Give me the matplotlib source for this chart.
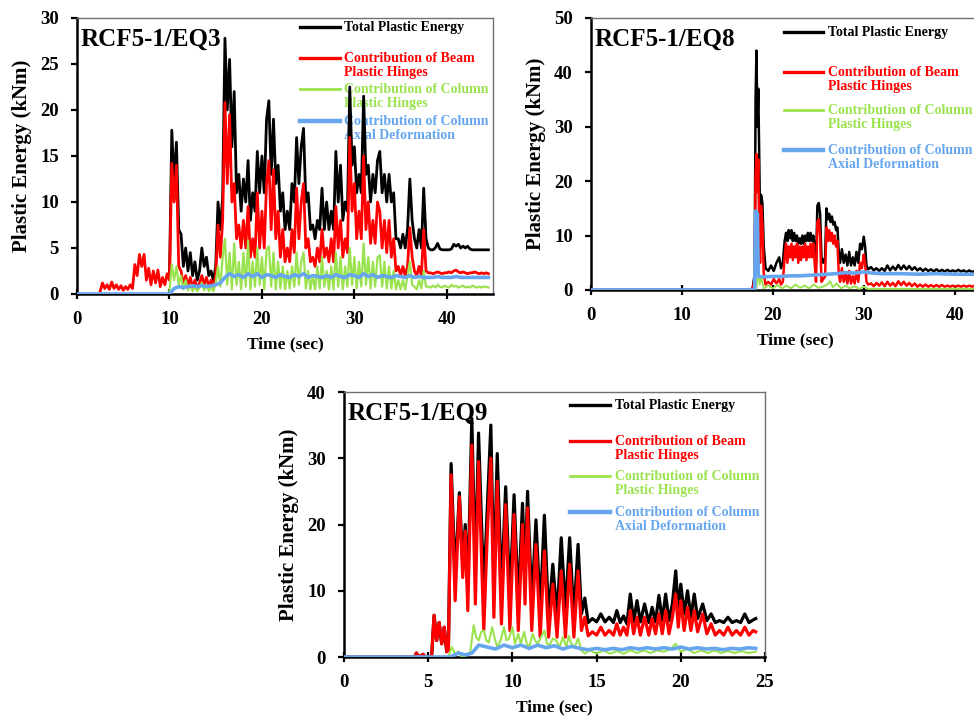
import numpy as np
import matplotlib
matplotlib.use('Agg')
import matplotlib.pyplot as plt

plt.rcParams['font.family'] = ['Liberation Serif', 'DejaVu Serif']
plt.rcParams['font.weight'] = 'bold'
plt.rcParams['axes.labelweight'] = 'bold'

legend_labels = [
    'Total Plastic Energy',
    'Contribution of Beam\nPlastic Hinges',
    'Contribution of Column\nPlastic Hinges',
    'Contribution of Column\nAxial Deformation',
]
colors = ['black', '#FF0000', '#9BE24F', '#66A6EE']

# ---- EQ3 : sampled every 0.25 s (blue every 0.5 s) ----
eq3_step = 0.25
eq3_total_start = 10.0
eq3_total = [
    2, 17.8, 12, 16.5, 7, 6.5, 3, 5, 2.5, 4.5, 2, 3.5,
    1.5, 2.5, 5, 3, 4, 2, 2.5, 1.5, 3, 10, 7, 10.5,
    27.8, 20, 25.5, 16, 22, 11, 13, 9, 12.5, 10, 14.5, 8,
    11, 9, 15.5, 11, 15, 11, 19, 21, 13, 19, 12, 14,
    9, 11, 7, 9, 7, 12, 10, 17, 12, 16, 18, 10,
    11, 7, 7.5, 6, 8, 7, 11.5, 7, 10, 7, 9, 7,
    15.5, 10, 14, 8, 10, 9, 22.5, 14, 16, 11, 13, 11,
    21.5, 13, 14, 10, 13, 11, 14.5, 15.5, 11, 13, 10, 13,
    10, 11, 6, 6, 5, 6.5, 5, 7, 12.5, 8, 6, 5,
    7, 5, 11.5, 6, 5, 4.8, 4.8, 5, 5.5, 4.9, 4.8, 4.8,
    4.8, 4.8, 4.9, 5.4, 5.2, 5.4, 5.0, 5.2, 5.0, 5.2, 4.9, 4.8,
    4.8, 4.8, 4.8, 4.8, 4.8, 4.8, 4.8,
]
eq3_beam_start = 2.5
eq3_beam = [
    0.3, 1.2,
    0.6, 1.0, 0.5, 1.3, 0.6, 1.0, 0.5, 0.9, 0.4, 0.8, 0.5, 1.0,
    0.6, 3.2, 2.0, 4.3, 3.0, 4.3, 1.5, 2.8, 1.0, 2.5, 1.2, 2.6,
    0.8, 1.8, 1.0, 2.2, 1.5, 14.2, 10, 14, 3, 2.5, 1.0, 2.0,
    0.8, 1.8, 0.7, 1.5, 0.6, 1.2, 2.0, 1.0, 1.8, 0.8, 1.5, 0.8,
    2.0, 7.5, 4, 8, 20.8, 12, 19.5, 10, 12, 6, 7.5, 5,
    8, 5, 9.5, 4, 6, 4, 11, 5, 9, 5, 12, 14.5,
    7, 13.5, 6, 9, 4, 7, 3.5, 5, 3.5, 7, 4.5, 11.5,
    6, 10, 12, 5, 6, 3.5, 4, 3, 5, 3.5, 7, 4,
    5, 3.5, 6, 3.5, 9.5, 5, 8, 4, 6, 4.5, 17, 9,
    12, 6, 9, 6, 15, 7, 10, 5.5, 8, 5.5, 10, 9,
    5, 8, 4.5, 8, 4, 6, 2.5, 3, 2, 3, 2, 3,
    7.2, 4, 2.5, 2, 3, 2, 7, 2.5, 2.3, 2.3, 2.2, 2.3,
    2.4, 2.3, 2.2, 2.3, 2.3, 2.4, 2.3, 2.5, 2.6, 2.4, 2.3, 2.4,
    2.3, 2.2, 2.3, 2.3, 2.4, 2.3, 2.2, 2.3, 2.2, 2.3, 2.2,
]
eq3_col_start = 10.0
eq3_col = [
    0.3, 3.2, 1.5, 3.0, 1.0, 2.0, 0.5, 1.5, 0.4, 1.0, 0.3, 0.8,
    0.3, 0.7, 1.2, 0.4, 1.0, 0.3, 0.8, 0.3, 1.2, 3.0, 0.8, 4.0,
    6.0, 1.0, 4.5, 0.5, 5.5, 1.0, 3.5, 0.5, 4.5, 0.8, 5.8, 0.5,
    3.5, 0.8, 5.0, 1.0, 4.0, 0.5, 4.8, 5.2, 0.8, 4.5, 0.5, 3.5,
    0.6, 3.0, 0.5, 2.5, 0.6, 3.0, 0.8, 4.5, 1.0, 3.5, 4.5, 0.6,
    2.5, 0.5, 2.0, 0.5, 3.0, 0.6, 4.0, 0.8, 2.5, 0.5, 3.0, 0.5,
    4.5, 0.8, 4.0, 0.5, 3.0, 0.8, 5.0, 1.0, 4.0, 0.6, 3.5, 0.8,
    5.5, 1.0, 4.0, 0.6, 3.5, 0.8, 4.0, 4.2, 0.8, 3.5, 0.6, 3.0,
    0.6, 2.5, 0.5, 1.5, 0.5, 1.5, 0.5, 2.0, 3.5, 1.0, 0.8, 0.5,
    1.5, 0.6, 2.5, 0.8, 0.8, 0.7, 0.9, 0.7, 1.0, 0.8, 0.7, 0.9,
    0.8, 0.7, 1.0, 0.8, 0.9, 0.7, 0.8, 0.9, 0.7, 0.8, 0.7, 0.9,
    0.8, 0.7, 0.8, 0.7, 0.8, 0.8, 0.7,
]
eq3_axial_step = 0.5
eq3_axial = [
    0, 0, 0, 0, 0, 0, 0, 0, 0, 0, 0, 0, 0, 0, 0, 0, 0, 0, 0, 0,
    0, 0.6, 0.8, 0.7, 0.8, 0.9, 0.8, 0.9, 0.8, 0.9, 1.0, 1.2,
    1.8, 2.2, 1.9, 2.1, 1.8, 2.2, 1.9, 2.2, 1.8, 2.1, 2.0, 1.8,
    2.1, 1.9, 1.8, 2.1, 1.9, 2.2, 1.8, 2.0, 1.9, 1.8, 2.0, 1.8,
    2.1, 1.9, 1.8, 2.1, 2.0, 1.8, 2.2, 1.9, 2.1, 1.8, 2.0, 1.9,
    1.8, 2.0, 1.9, 1.8, 2.0, 1.8, 1.9, 1.8, 1.8, 1.8, 1.9, 1.8,
    1.8, 1.8, 1.9, 1.8, 1.8, 1.8, 1.8, 1.8, 1.8, 1.8,
]

# ---- EQ8 ----
eq8_t = [
    0, 17.7, 17.8, 18.0, 18.1, 18.2, 18.3, 18.4, 18.5, 18.6,
    18.7, 18.85, 19.0, 19.2, 19.5, 19.8, 20.1, 20.4, 20.7, 20.9,
    21.1, 21.3, 21.45, 21.6, 21.75, 21.9, 22.05, 22.2, 22.35, 22.5,
    22.65, 22.8, 22.95, 23.1, 23.25, 23.4, 23.55, 23.7, 23.85, 24.0,
    24.15, 24.3, 24.45, 24.6, 24.75, 24.9, 25.05, 25.2, 25.35, 25.55,
    25.75, 25.9, 26.05, 26.2, 26.35, 26.5, 26.65, 26.8, 26.95, 27.1,
    27.25, 27.4, 27.6, 27.8, 28.0, 28.2, 28.4, 28.6, 28.8, 29.0,
    29.2, 29.4, 29.6, 29.8, 30.0, 30.15, 30.3, 30.5, 30.8, 31.1,
    31.4, 31.7, 32.0, 32.3, 32.6, 32.9, 33.2, 33.5, 33.8, 34.1,
    34.4, 34.7, 35.0, 35.3, 35.6, 35.9, 36.2, 36.5, 36.8, 37.1,
    37.4, 37.7, 38.0, 38.3, 38.6, 38.9, 39.2, 39.5, 39.8, 40.1,
    40.4, 40.7, 41.0, 41.3, 41.6, 41.9, 42.2, 42.5, 43.0, 43.5,
    44.0, 44.5,
]
eq8_total = [
    0, 0, 0.5, 3, 35, 44, 30, 37, 25, 12,
    17.5, 16, 8, 4, 3.5, 4.5, 3.5, 5, 6, 4,
    5, 9, 10.5, 9, 11, 9.5, 11, 9, 10.5, 9,
    10, 8.5, 9.5, 8.5, 10, 8.5, 10, 9, 10.5, 9,
    10.5, 9, 10, 8, 5, 15.5, 16, 14, 6, 5,
    6, 15, 13, 14, 12.5, 13.5, 12, 12.5, 11, 11.5,
    7, 5, 7.5, 5, 6.5, 4.5, 7, 4.5, 6, 4.5,
    7, 5, 8.5, 7.5, 9.8, 8, 4.5, 3.8, 4.2, 3.6,
    4.0, 3.5, 4.0, 3.5, 4.5, 3.6, 4.3, 3.7, 4.6, 3.8,
    4.5, 3.8, 4.4, 3.7, 4.2, 3.6, 4.0, 3.5, 3.9, 3.5,
    3.8, 3.4, 3.8, 3.4, 3.7, 3.4, 3.7, 3.4, 3.6, 3.4,
    3.7, 3.4, 3.6, 3.3, 3.6, 3.3, 3.5, 3.3, 3.5, 3.3,
    3.5, 3.3,
]
eq8_beam = [
    0, 0, 0.5, 2, 21, 25, 18, 24, 10, 5,
    15.5, 12, 3, 1, 1.5, 1.0, 2.0, 1.2, 2.0, 1.0,
    1.5, 6, 8.5, 5, 8, 6, 8.5, 5.5, 8, 6,
    8.5, 5, 8, 5.5, 8, 6, 8.5, 5.5, 8, 6,
    8.5, 6, 8.5, 5, 1.5, 12.5, 13, 10, 1.5, 2,
    2.5, 11.5, 9, 11, 9, 10.5, 8.5, 10, 8, 9,
    3, 1.5, 4, 1.5, 3, 1.2, 3.5, 1.2, 2.5, 1.2,
    3.5, 1.5, 5, 4, 6.5, 5, 1.5, 1.0, 1.2, 0.7,
    1.3, 0.8, 1.4, 0.7, 1.5, 0.8, 1.3, 0.7, 1.6, 0.9,
    1.5, 0.8, 1.3, 0.7, 1.2, 0.6, 1.0, 0.6, 1.0, 0.6,
    0.9, 0.6, 0.9, 0.6, 0.9, 0.6, 0.8, 0.6, 0.8, 0.6,
    0.8, 0.6, 0.8, 0.6, 0.8, 0.6, 0.8, 0.6, 0.8, 0.6,
    0.7, 0.6,
]
eq8_col_t = [0, 18.0, 18.2, 18.4, 18.55, 18.7, 19.0, 19.5, 20.0, 20.5,
             21.0, 21.5, 22.0, 22.5, 23.0, 23.5, 24.0, 24.5, 25.0, 25.5,
             26.0, 26.3, 26.6, 27.0, 27.5, 28.0, 28.5, 29.0, 29.5, 30.0,
             30.5, 32, 34, 36, 38, 40, 42, 44.5]
eq8_col = [0, 0, 0.5, 4.0, 1.0, 2.5, 0.3, 0.8, 0.3, 0.9,
           0.3, 0.8, 0.3, 1.0, 0.4, 0.8, 0.3, 1.0, 0.4, 0.6,
           1.0, 1.6, 0.5, 1.2, 0.3, 0.8, 0.3, 0.7, 0.2, 0.6,
           0.2, 0.2, 0.2, 0.2, 0.2, 0.2, 0.2, 0.2]
eq8_axial_t = [0, 18.0, 18.1, 18.3, 18.4, 19, 20, 21, 22, 23, 24, 25, 26,
               27, 28, 29, 30, 31, 32, 34, 36, 38, 40, 42, 44.5]
eq8_axial = [0, 0, 14.5, 14, 2.5, 2.4, 2.5, 2.5, 2.6, 2.6, 2.7, 2.8, 2.9,
             3.0, 3.2, 3.1, 3.3, 3.1, 3.0, 3.0, 2.9, 3.0, 2.9, 2.9, 2.9]

# ---- EQ9 ----
eq9_t = [
    0, 4.2, 4.3, 4.45, 4.7, 4.8, 4.95, 5.2, 5.35, 5.5,
    5.65, 5.8, 5.95, 6.1, 6.2, 6.36, 6.6, 6.85, 7.05, 7.2,
    7.35, 7.59, 7.8, 7.99, 8.3, 8.5, 8.72, 8.9, 9.1, 9.35,
    9.6, 9.85, 10.1, 10.35, 10.6, 10.75, 10.9, 11.15, 11.4, 11.65,
    11.9, 12.15, 12.4, 12.65, 12.9, 13.15, 13.4, 13.65, 13.9, 14.1,
    14.3, 14.5, 14.75, 15.0, 15.25, 15.5, 15.75, 16.0, 16.2, 16.4,
    16.6, 16.8, 17.0, 17.2, 17.4, 17.6, 17.85, 18.1, 18.3, 18.5,
    18.7, 18.9, 19.1, 19.3, 19.5, 19.7, 19.85, 20.0, 20.2, 20.4,
    20.6, 20.8, 21.0, 21.3, 21.55, 21.8, 22.05, 22.3, 22.55, 22.8,
    23.05, 23.3, 23.55, 23.8, 24.05, 24.3, 24.45,
]
eq9_total = [
    0, 0, 0.6, 0, 0.4, 0, 0, 0, 6.3, 2.5,
    5.2, 2.0, 4.5, 0.8, 1.5, 29.2, 12, 24.8, 14, 20,
    10, 36, 13, 33.8, 10, 22, 35, 11, 30.7, 10,
    25.7, 9, 24.5, 8, 23.2, 12, 25, 8, 20.7, 7,
    21.4, 6, 14, 6, 18, 7, 18, 6, 17, 6.5,
    8.9, 5.2, 5.8, 5.3, 6.5, 5.3, 6.0, 5.2, 7.0, 5.2,
    6.2, 5.0, 9.5, 5.3, 8.5, 5.3, 8.0, 5.2, 7.5, 5.3,
    9.3, 5.5, 9.5, 5.5, 8.0, 13, 7, 11, 6.5, 10,
    6, 9.5, 5.8, 8, 5.5, 6.5, 5.2, 5.5, 5.2, 6.0,
    5.2, 5.5, 5.2, 6.5, 5.2, 5.6, 5.8,
]
eq9_beam = [
    0, 0, 0.6, 0, 0.4, 0, 0, 0, 6.3, 2.5,
    5.2, 2.0, 4.5, 0.8, 1.0, 27.5, 8.5, 24.2, 12, 19,
    7, 32, 8, 29.5, 4, 18, 30, 6, 26.5, 5,
    23, 4, 21.5, 4, 20, 8, 22.5, 4, 17, 3,
    16, 3, 11, 3, 13, 3, 14, 3, 13, 4,
    6, 3.2, 3.8, 3.3, 4.5, 3.3, 4.0, 3.3, 5.0, 3.3,
    4.5, 3.3, 7.0, 3.5, 6.0, 3.3, 6.0, 3.3, 5.8, 3.5,
    6.5, 3.5, 7.0, 3.5, 6.0, 9.5, 4.5, 8.5, 4.0, 7.5,
    4.0, 7.0, 3.8, 6.5, 3.5, 5.0, 3.3, 4.0, 3.3, 4.5,
    3.3, 4.0, 3.3, 4.5, 3.3, 4.0, 3.8,
]
eq9_col_t = [
    0, 6.2, 6.4, 6.6, 6.8, 7.0, 7.3, 7.5, 7.7, 7.85,
    8.0, 8.15, 8.3, 8.45, 8.6, 8.8, 8.95, 9.1, 9.3, 9.5,
    9.65, 9.8, 10.0, 10.15, 10.35, 10.5, 10.7, 10.85, 11.0, 11.2,
    11.35, 11.5, 11.7, 11.9, 12.05, 12.2, 12.4, 12.6, 12.8, 13.0,
    13.2, 13.35, 13.5, 13.7, 13.9, 14.1, 14.3, 14.6, 15.0, 15.4,
    15.8, 16.2, 16.6, 17.0, 17.4, 17.8, 18.2, 18.6, 19.0, 19.4,
    19.7, 20.0, 20.4, 20.8, 21.2, 21.6, 22.0, 22.4, 22.8, 23.2,
    23.6, 24.0, 24.45,
]
eq9_col = [
    0, 0, 1.5, 0.5, 0.8, 0, 0.3, 0.8, 4.8, 3.0,
    2.5, 3.8, 4.0, 2.5, 2.2, 4.5, 2.8, 1.5, 2.5, 4.5,
    2.5, 2.8, 4.5, 2.0, 3.5, 2.0, 3.8, 2.0, 1.5, 3.5,
    2.5, 2.0, 3.0, 4.0, 2.0, 1.8, 2.8, 2.5, 1.5, 3.0,
    1.5, 3.2, 2.0, 1.5, 2.8, 1.0, 0.5, 1.0, 0.5, 1.0,
    0.5, 0.9, 0.5, 1.0, 0.6, 1.0, 0.6, 1.0, 0.8, 1.2,
    2.0, 0.8, 1.2, 0.6, 1.0, 0.6, 1.0, 0.6, 0.9, 0.6,
    0.9, 0.6, 0.8,
]
eq9_axial_t = [0, 6.3, 6.8, 7.2, 7.6, 8.0, 8.5, 9.0, 9.5, 10.0,
               10.5, 11.0, 11.5, 12.0, 12.5, 13.0, 13.5, 14.0, 14.5, 15.0,
               15.5, 16.0, 16.5, 17.0, 17.5, 18.0, 18.5, 19.0, 19.5, 20.0,
               20.5, 21.0, 21.5, 22.0, 22.5, 23.0, 23.5, 24.0, 24.45]
eq9_axial = [0, 0, 0.6, 0.3, 0.6, 1.8, 1.5, 1.2, 1.8, 1.4,
             1.8, 1.3, 1.8, 1.4, 1.7, 1.2, 1.6, 1.3, 1.1, 1.3,
             1.1, 1.3, 1.1, 1.4, 1.2, 1.4, 1.2, 1.4, 1.2, 1.5,
             1.2, 1.4, 1.2, 1.3, 1.1, 1.3, 1.2, 1.4, 1.3]


def sampled(start, step, values):
    return start + step * np.arange(len(values)), values


def draw_panel(ax, title, curves, widths, xmax, ymax, xstep, ystep,
               legend_x, legend_y):
    for i, ((t, v), c, w) in enumerate(zip(curves, colors, widths)):
        ax.plot(t, v, color=c, lw=w, zorder=2 + i)

    ax.set_xlim(0, xmax)
    ax.set_ylim(0, ymax)
    ax.set_xticks(np.arange(0, xmax + 0.1, xstep))
    ax.set_yticks(np.arange(0, ymax + 0.1, ystep))
    ax.tick_params(axis='both', labelsize=13.5, width=1.6)
    ax.tick_params(axis='x', direction='inout', length=7, pad=9)
    ax.tick_params(axis='y', direction='out', length=4, pad=9)
    for side in ['left', 'bottom']:
        ax.spines[side].set_linewidth(1.8)
    for side in ['top', 'right']:
        ax.spines[side].set_linewidth(1.0)
        ax.spines[side].set_color('#707070')
    ax.set_xlabel('Time (sec)', fontsize=12.5, labelpad=6)
    ax.set_ylabel('Plastic Energy (kNm)', fontsize=15, labelpad=6)

    ax.text(0.008, 0.965, title, transform=ax.transAxes, fontsize=18,
            va='top', ha='left', zorder=1)

    # hand-drawn legend: short line, coloured label beside it
    x0, x1, xt = legend_x
    legend_w = [2.4, 2.4, 2.0, 3.2]
    for label, c, w, y in zip(legend_labels, colors, legend_w, legend_y):
        ax.plot([x0, x1], [y, y], transform=ax.transAxes, color=c,
                lw=w, clip_on=False, zorder=1)
        ax.annotate(label, xy=(xt, y), xycoords='axes fraction',
                    xytext=(0, 4.5), textcoords='offset points',
                    color=c, fontsize=10, va='top', ha='left',
                    linespacing=1.12, zorder=1)


fig = plt.figure(figsize=(9.74, 7.16), dpi=100)
ax1 = fig.add_axes([0.0791, 0.5894, 0.4271, 0.3855])
ax2 = fig.add_axes([0.6068, 0.5950, 0.4200, 0.3799])
ax3 = fig.add_axes([0.3532, 0.0824, 0.4322, 0.3701])

draw_panel(ax1, 'RCF5-1/EQ3',
           [sampled(eq3_total_start, eq3_step, eq3_total),
            sampled(eq3_beam_start, eq3_step, eq3_beam),
            sampled(eq3_col_start, eq3_step, eq3_col),
            sampled(0.0, eq3_axial_step, eq3_axial)],
           [2.0, 2.0, 1.6, 2.6],
           45, 30, 10, 5,
           (0.536, 0.632, 0.642), [0.967, 0.855, 0.743, 0.627])

draw_panel(ax2, 'RCF5-1/EQ8',
           [(eq8_t, eq8_total), (eq8_t, eq8_beam),
            (eq8_col_t, eq8_col), (eq8_axial_t, eq8_axial)],
           [1.8, 1.8, 1.4, 2.6],
           45, 50, 10, 10,
           (0.471, 0.567, 0.579), [0.949, 0.801, 0.662, 0.515])

draw_panel(ax3, 'RCF5-1/EQ9',
           [(eq9_t, eq9_total), (eq9_t, eq9_beam),
            (eq9_col_t, eq9_col), (eq9_axial_t, eq9_axial)],
           [2.3, 2.3, 1.5, 2.6],
           25, 40, 5, 10,
           (0.537, 0.632, 0.644), [0.951, 0.815, 0.683, 0.547])

fig.savefig('out.png', dpi=100, facecolor='white')
